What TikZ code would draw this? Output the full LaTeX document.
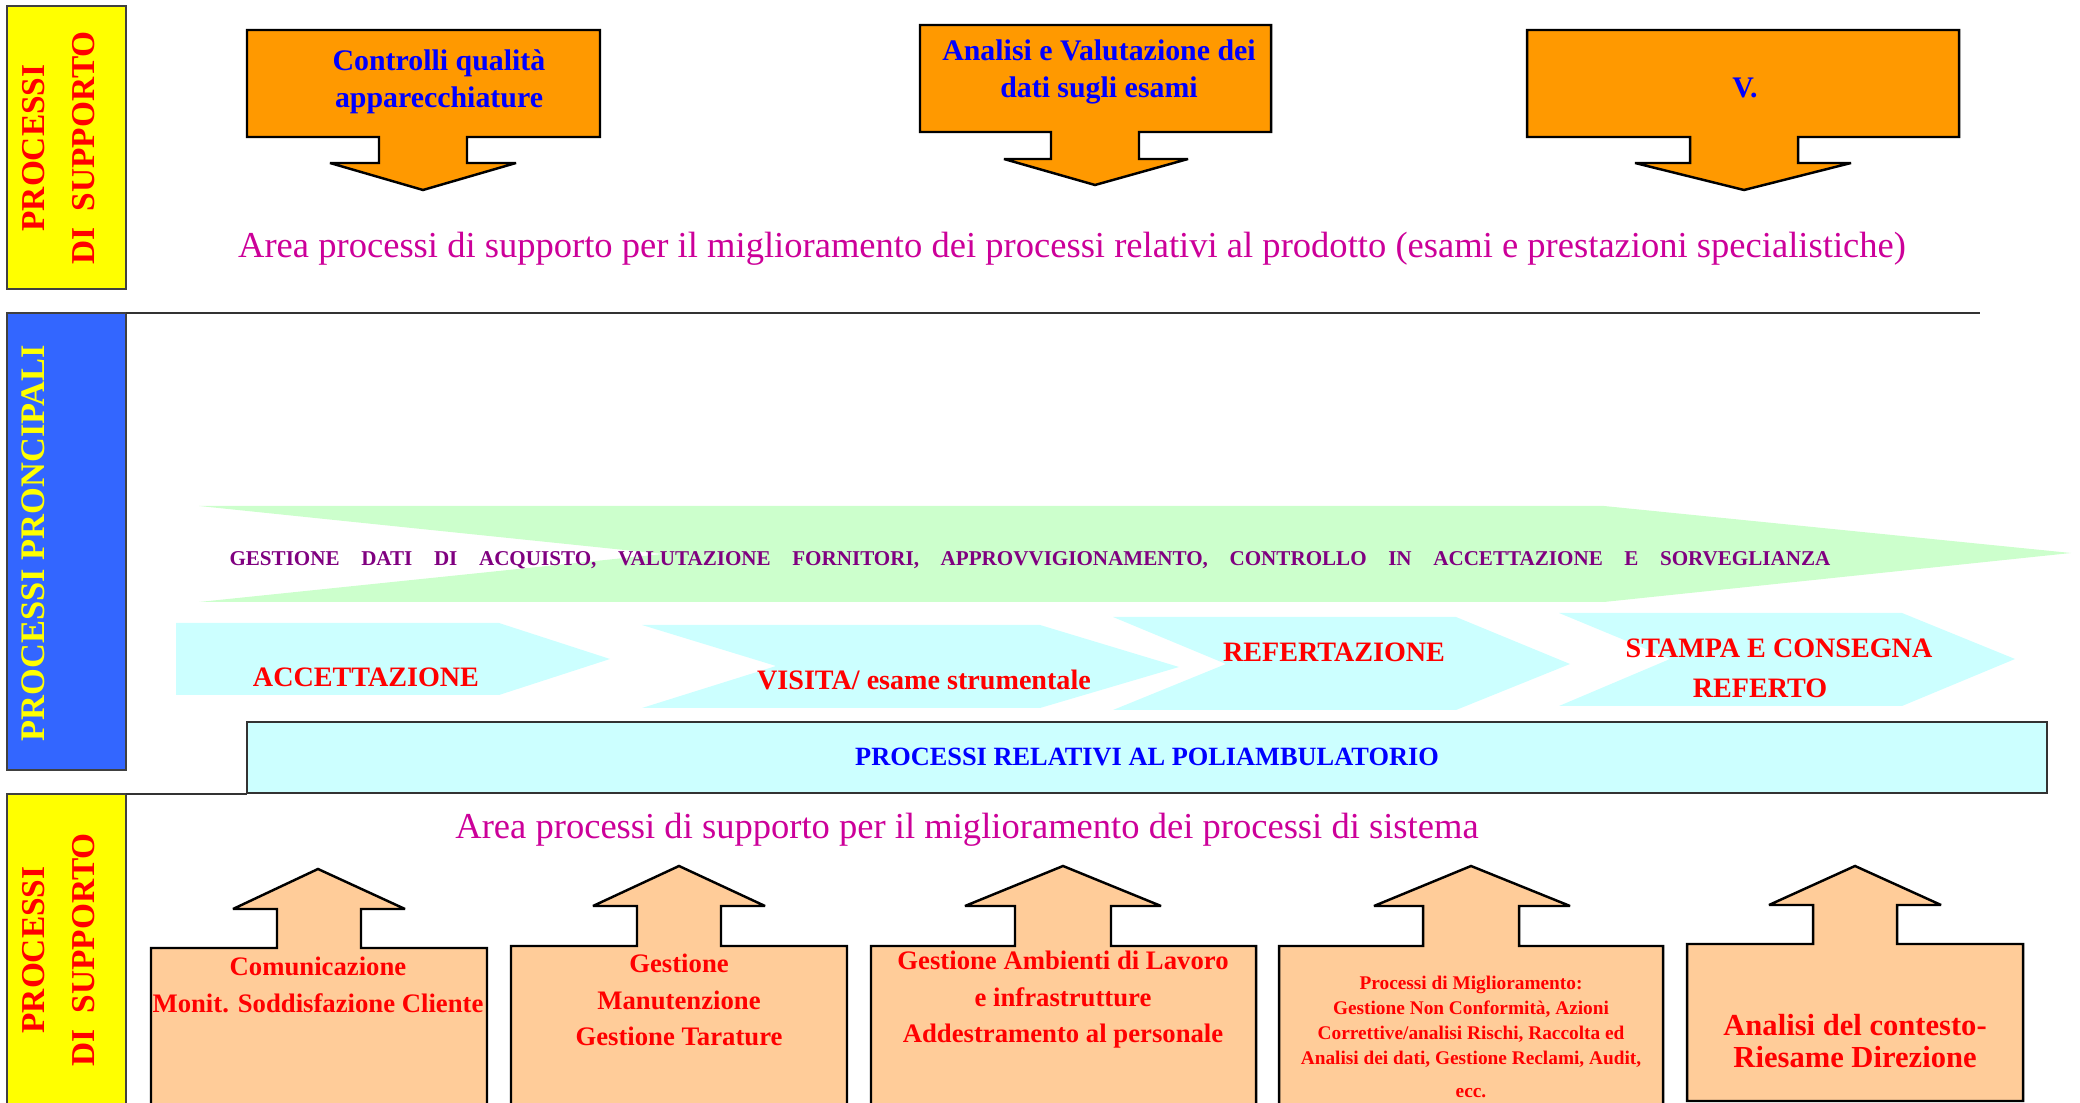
\documentclass[tikz,border=0pt]{standalone}
\usepackage{fontspec}
\setmainfont{Liberation Serif}
\definecolor{supyellow}{HTML}{FFFF00}
\definecolor{prinblue}{HTML}{3366FF}
\definecolor{arrorange}{HTML}{FF9900}
\definecolor{arrpeach}{HTML}{FFCC99}
\definecolor{flowgreen}{HTML}{CCFFCC}
\definecolor{flowcyan}{HTML}{CCFFFF}
\definecolor{areamag}{HTML}{CC0099}
\definecolor{purchpurple}{HTML}{800080}

\begin{document}
\begin{tikzpicture}[x=0.1mm,y=-0.1mm,
  panel/.style={draw=black!75,line width=0.4pt},
  blk/.style={draw=black,line width=0.7pt,line join=miter,miter limit=2},
  sidetxt/.style={rotate=90,align=center,text=red,font=\bfseries\fontsize{9.5}{14.2}\selectfont},
  toptxt/.style={align=center,text=blue,font=\bfseries\fontsize{8.5}{10.5}\selectfont},
  areatxt/.style={text=areamag,font=\fontsize{10.4}{12}\selectfont},
  chevtxt/.style={align=center,text=red,font=\bfseries\fontsize{8}{11.4}\selectfont},
  boxtxt/.style={align=center,text=red,font=\bfseries\fontsize{7.6}{10.4}\selectfont}]
\useasboundingbox (0,0) rectangle (2080,1103);
\clip (0,0) rectangle (2080,1103);

\draw[panel,fill=supyellow] (7,6) rectangle (126,289);
\draw[panel,fill=prinblue] (7,313) rectangle (126,770);
\draw[panel,fill=supyellow] (7,794) rectangle (126,1110);
\draw[black!80,line width=0.6pt] (126,313) -- (1980,313);
\draw[black!80,line width=0.6pt] (126,794) -- (247,794);

\node[sidetxt] (suptop) at (59,148) {PROCESSI\\DI\ \ SUPPORTO};
\node[sidetxt,text=supyellow,font=\bfseries\fontsize{9.8}{14}\selectfont] (princ) at (33,543) {PROCESSI PRONCIPALI};
\node[sidetxt] (supbot) at (59,950) {PROCESSI\\DI\ \ SUPPORTO};

\foreach \xa/\xb/\ya/\yb/\sa/\sb/\yh/\ha/\hb/\tx/\ty in
  {247/600/30/137/379/467/163/330/516/423/190,
   920/1271/25/132/1051/1139/159/1004/1188/1095/185,
   1527/1959/30/137/1690/1798/163/1635/1851/1744/190}
  \draw[blk,fill=arrorange] (\xa,\ya) -- (\xb,\ya) -- (\xb,\yb) -- (\sb,\yb) -- (\sb,\yh) -- (\hb,\yh)
    -- (\tx,\ty) -- (\ha,\yh) -- (\sa,\yh) -- (\sa,\yb) -- (\xa,\yb) -- cycle;

\node[toptxt] (ctrl) at (439,82) {Controlli qualità\\apparecchiature};
\node[toptxt] (anval) at (1099,72) {Analisi e Valutazione dei\\dati sugli esami};
\node[toptxt] (vpunto) at (1745,88) {V.};

\node[areatxt] (areaprod) at (1072,249) {Area processi di supporto per il miglioramento dei processi relativi al prodotto (esami e prestazioni specialistiche)};

\fill[flowgreen] (199,506) -- (1604,506) -- (2071,553) -- (1604,602) -- (199,602) -- (663,554) -- cycle;
\node[text=purchpurple,font=\bfseries\fontsize{6}{7}\selectfont] (acquisti) at (1030,560)
  {\makebox[160.1mm][s]{GESTIONE DATI DI ACQUISTO, VALUTAZIONE FORNITORI, APPROVVIGIONAMENTO, CONTROLLO IN ACCETTAZIONE E SORVEGLIANZA}};

\fill[flowcyan] (176,623) -- (499,623) -- (610,659) -- (499,695) -- (176,695) -- cycle;
\fill[flowcyan] (642,625) -- (1040,625) -- (1179,667) -- (1040,708) -- (642,708) -- (776,666) -- cycle;
\fill[flowcyan] (1113,617) -- (1456,617) -- (1570,664) -- (1456,710) -- (1113,710) -- (1226,664) -- cycle;
\fill[flowcyan] (1559,613) -- (1902,613) -- (2015,659) -- (1902,706) -- (1559,706) -- (1670,659) -- cycle;

\node[chevtxt] (accett) at (366,677) {ACCETTAZIONE};
\node[chevtxt] (visita) at (924,680) {VISITA/ esame strumentale};
\node[chevtxt] (refert) at (1334,652) {REFERTAZIONE};
\node[chevtxt] (stampa) at (1779,668) {STAMPA E CONSEGNA\\REFERTO\hspace*{3.8mm}};

\draw[panel,draw=black!80,line width=0.6pt,fill=flowcyan] (247,722) rectangle (2047,793);
\node[text=blue,font=\bfseries\fontsize{7.5}{9}\selectfont] (poliamb) at (1147,757) {PROCESSI RELATIVI AL POLIAMBULATORIO};

\node[areatxt] (areasis) at (967,830) {Area processi di supporto per il miglioramento dei processi di sistema};

\foreach \xa/\xb/\ya/\yb/\sa/\sb/\yh/\ha/\hb/\tx/\ty in
  {151/487/948/1120/277/361/909/233/405/318/869,
   511/847/946/1120/637/721/906/593/765/679/866,
   871/1256/946/1120/1015/1111/906/965/1161/1063/866,
   1279/1663/946/1120/1423/1519/906/1374/1570/1471/866,
   1687/2023/944/1101/1813/1897/905/1769/1941/1855/866}
  \draw[blk,fill=arrpeach] (\xa,\yb) -- (\xa,\ya) -- (\sa,\ya) -- (\sa,\yh) -- (\ha,\yh) -- (\tx,\ty)
    -- (\hb,\yh) -- (\sb,\yh) -- (\sb,\ya) -- (\xb,\ya) -- (\xb,\yb) -- cycle;

\node[boxtxt] (comun) at (318,985) {Comunicazione\\Monit. Soddisfazione Cliente};
\node[boxtxt] (manut) at (679,1000) {Gestione\\Manutenzione\\Gestione Tarature};
\node[boxtxt] (ambient) at (1063,1000) {Gestione Ambienti di Lavoro\\e infrastrutture\\Addestramento al personale};
\node[boxtxt,font=\bfseries\fontsize{5.5}{7.1}\selectfont] (miglior) at (1471,1037)
  {Processi di Miglioramento:\\Gestione Non Conformità, Azioni\\Correttive/analisi Rischi, Raccolta ed\\Analisi dei dati, Gestione Reclami, Audit,\\[2.5pt]ecc.};
\node[boxtxt,font=\bfseries\fontsize{8.7}{9.1}\selectfont] (riesame) at (1855,1041) {Analisi del contesto-\\Riesame Direzione};
\end{tikzpicture}
\end{document}
